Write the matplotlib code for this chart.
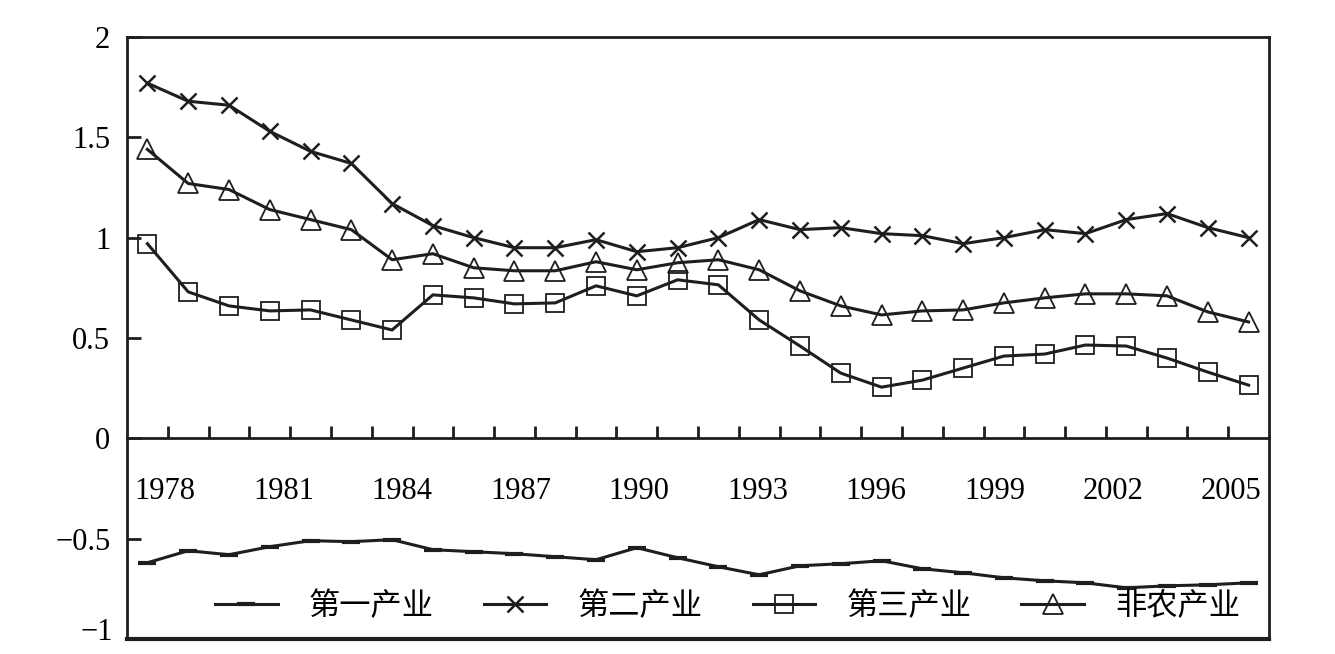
import numpy as np
import matplotlib
matplotlib.use("Agg")
import matplotlib.pyplot as plt

plt.rcParams.update({
    "font.family": ["Liberation Serif", "Noto Sans CJK SC"],
    "font.size": 22,
})

years = list(range(1978, 2006))
label_years = list(range(1978, 2006, 3))

primary = [-0.62, -0.56, -0.58, -0.54, -0.51, -0.515, -0.505, -0.555, -0.565, -0.575,
           -0.59, -0.605, -0.545, -0.595, -0.64, -0.68, -0.635, -0.625, -0.61, -0.65,
           -0.67, -0.695, -0.71, -0.72, -0.745, -0.735, -0.73, -0.72]
secondary = [1.77, 1.68, 1.66, 1.53, 1.43, 1.37, 1.17, 1.06, 1.00, 0.95,
             0.95, 0.99, 0.93, 0.95, 1.00, 1.09, 1.04, 1.05, 1.02, 1.01,
             0.97, 1.00, 1.04, 1.02, 1.09, 1.12, 1.05, 1.00]
tertiary = [0.97, 0.73, 0.66, 0.635, 0.64, 0.59, 0.54, 0.715, 0.70, 0.67,
            0.675, 0.76, 0.71, 0.79, 0.765, 0.59, 0.46, 0.325, 0.255, 0.29,
            0.35, 0.41, 0.42, 0.465, 0.46, 0.40, 0.33, 0.265]
nonagri = [1.44, 1.27, 1.24, 1.14, 1.09, 1.04, 0.89, 0.92, 0.85, 0.835,
           0.835, 0.88, 0.84, 0.875, 0.89, 0.84, 0.735, 0.66, 0.615, 0.635,
           0.64, 0.675, 0.70, 0.72, 0.72, 0.71, 0.63, 0.58]

series_names = ["第一产业", "第二产业", "第三产业", "非农产业"]
y_ticks = [-1, -0.5, 0, 0.5, 1, 1.5, 2]
y_labels = ["", "\u22120.5", "0", "0.5", "1", "1.5", "2"]

fig = plt.figure(figsize=(13.35, 6.54), dpi=100)
ax = fig.add_axes([127 / 1335, 15 / 654, 1142 / 1335, 602 / 654])

x = np.arange(len(years))
lc = "#1e1e1e"
lw = 2.2

ax.plot(x, primary, color=lc, lw=lw, marker="_", ms=13, mew=3, label=series_names[0])
ax.plot(x, secondary, color=lc, lw=lw, marker="x", ms=12, mew=1.8, label=series_names[1])
ax.plot(x, tertiary, color=lc, lw=lw, marker="s", ms=13, mfc="none", mec=lc, mew=1.3,
        label=series_names[2])
ax.plot(x, nonagri, color=lc, lw=lw, marker="^", ms=14, mfc="none", mec=lc, mew=1.3,
        label=series_names[3])

ax.set_xlim(-0.5, len(years) - 0.5)
ax.set_ylim(-1, 2)

# frame, with the x axis sitting on zero
for s in ax.spines.values():
    s.set_linewidth(2.0)
    s.set_color(lc)
ax.spines["bottom"].set_position(("data", 0))
ax.axhline(-1, color=lc, lw=3, clip_on=False)

# tick marks between categories, year labels placed separately
ax.set_xticks(x[:-1] + 0.5)
ax.set_xticklabels([])
ax.tick_params(axis="x", which="major", direction="in", length=9, width=2, color=lc)
label_pos = 0.43 + (np.array(label_years) - 1978) * 0.9685
ax.set_xticks(label_pos, minor=True)
ax.set_xticklabels([str(y) for y in label_years], minor=True)
ax.tick_params(axis="x", which="minor", length=0, pad=28, labelsize=22)

ax.set_yticks(y_ticks)
ax.set_yticklabels(y_labels)
ax.tick_params(axis="y", direction="in", length=10, width=2, color=lc, pad=12, labelsize=22)
# lowest label nudged up so it stays inside the picture
ax.annotate("\u22121", xy=(0, y_ticks[0]), xycoords=("axes fraction", "data"),
            xytext=(-10, 5), textcoords="offset points", ha="right", va="center",
            fontsize=22)

ax.legend(loc="center", bbox_to_anchor=(0.526, 0.053), ncol=4, frameon=False,
          handlelength=2.0, handletextpad=1.0, columnspacing=1.6, fontsize=22.5)

fig.savefig("out.png", dpi=100)
